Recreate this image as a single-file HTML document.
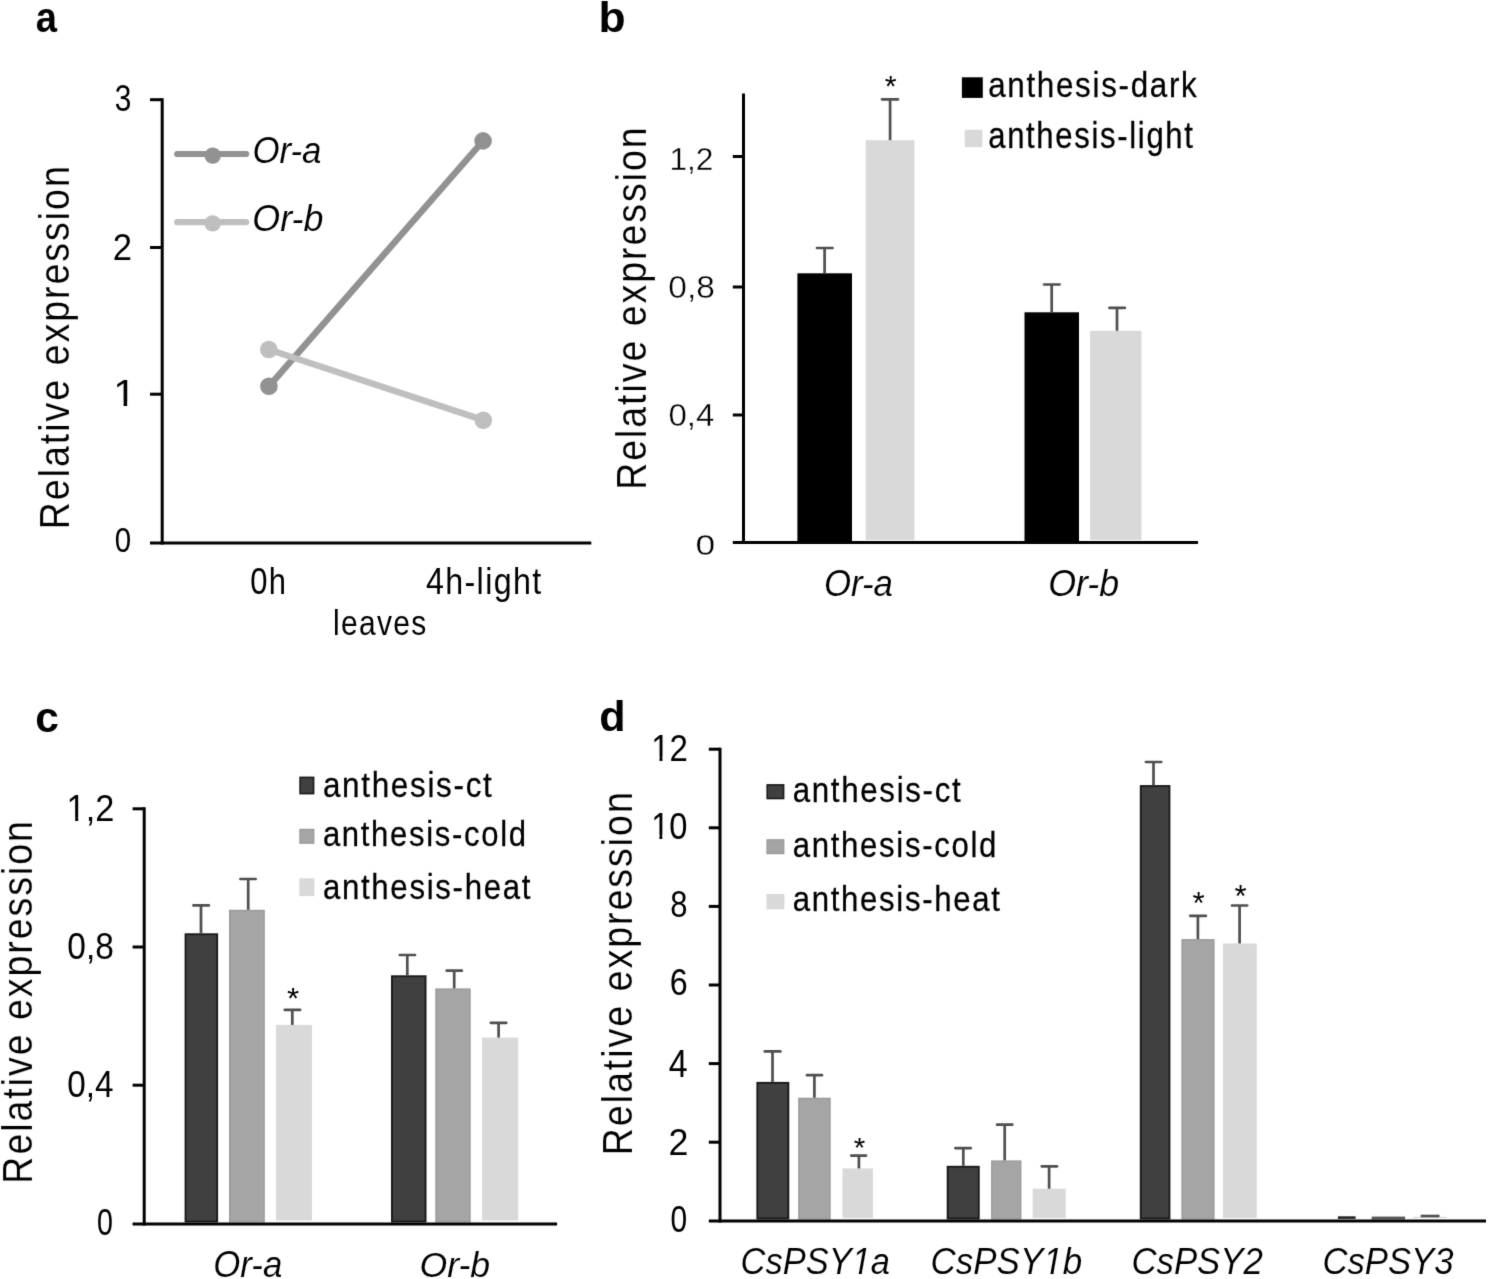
<!DOCTYPE html><html><head><meta charset="utf-8"><title>Figure</title><style>html,body{margin:0;padding:0;background:#fff;overflow:hidden}svg{display:block}</style></head><body><svg width="1488" height="1279" viewBox="0 0 1488 1279" font-family='"Liberation Sans", sans-serif'><defs><filter id="bl" filterUnits="userSpaceOnUse" x="0" y="0" width="1488" height="1279" color-interpolation-filters="sRGB"><feConvolveMatrix order="3" kernelMatrix="0.01134 0.08382 0.01134 0.08382 0.61935 0.08382 0.01134 0.08382 0.01134" divisor="1" edgeMode="duplicate" preserveAlpha="true"/></filter></defs><defs><mask id="m_a1" maskUnits="userSpaceOnUse" maskContentUnits="userSpaceOnUse" x="-50" y="-100" width="1000" height="200"><rect x="-50" y="-100" width="1000" height="200" fill="#fff"/><polygon points="0.000,1.055 9.053,1.055 9.053,-3.779 0.000,-3.779" fill="#000"/><polygon points="12.234,1.055 19.863,1.055 19.863,-3.779 12.234,-3.779" fill="#000"/></mask><mask id="m_c12" maskUnits="userSpaceOnUse" maskContentUnits="userSpaceOnUse" x="-50" y="-100" width="1000" height="200"><rect x="-50" y="-100" width="1000" height="200" fill="#fff"/><polygon points="0.000,1.055 9.053,1.055 9.053,-3.779 0.000,-3.779" fill="#000"/><polygon points="12.234,1.055 19.863,1.055 19.863,-3.779 12.234,-3.779" fill="#000"/></mask><mask id="m_d12" maskUnits="userSpaceOnUse" maskContentUnits="userSpaceOnUse" x="-50" y="-100" width="1000" height="200"><rect x="-50" y="-100" width="1000" height="200" fill="#fff"/><polygon points="0.000,1.055 9.053,1.055 9.053,-3.779 0.000,-3.779" fill="#000"/><polygon points="12.234,1.055 19.863,1.055 19.863,-3.779 12.234,-3.779" fill="#000"/></mask><mask id="m_d10" maskUnits="userSpaceOnUse" maskContentUnits="userSpaceOnUse" x="-50" y="-100" width="1000" height="200"><rect x="-50" y="-100" width="1000" height="200" fill="#fff"/><polygon points="0.000,1.055 9.053,1.055 9.053,-3.779 0.000,-3.779" fill="#000"/><polygon points="12.234,1.055 19.863,1.055 19.863,-3.779 12.234,-3.779" fill="#000"/></mask><mask id="m_dX1" maskUnits="userSpaceOnUse" maskContentUnits="userSpaceOnUse" x="-50" y="-100" width="1000" height="200"><rect x="-50" y="-100" width="1000" height="200" fill="#fff"/><polygon points="111.783,1.025 119.655,1.025 120.568,-3.674 112.638,-3.674" fill="#000"/><polygon points="122.749,1.025 123.662,-3.674 131.437,-3.674 130.582,1.025" fill="#000"/></mask><mask id="m_dX2" maskUnits="userSpaceOnUse" maskContentUnits="userSpaceOnUse" x="-50" y="-100" width="1000" height="200"><rect x="-50" y="-100" width="1000" height="200" fill="#fff"/><polygon points="111.783,1.025 119.655,1.025 120.568,-3.674 112.638,-3.674" fill="#000"/><polygon points="122.749,1.025 123.662,-3.674 131.437,-3.674 130.582,1.025" fill="#000"/></mask></defs><g filter="url(#bl)"><rect width="1488" height="1279" fill="#fff"/><line x1="162.2" y1="98.2" x2="162.2" y2="544.5" stroke="#000" stroke-width="3" stroke-linecap="butt"/><line x1="150" y1="99.7" x2="162.2" y2="99.7" stroke="#000" stroke-width="3" stroke-linecap="butt"/><line x1="150" y1="247.5" x2="162.2" y2="247.5" stroke="#000" stroke-width="3" stroke-linecap="butt"/><line x1="150" y1="394.2" x2="162.2" y2="394.2" stroke="#000" stroke-width="3" stroke-linecap="butt"/><line x1="150" y1="543" x2="591.3" y2="543" stroke="#000" stroke-width="3" stroke-linecap="butt"/><line x1="268.9" y1="386.3" x2="483.1" y2="140.9" stroke="#929292" stroke-width="6.5" stroke-linecap="round"/><line x1="268.8" y1="349.5" x2="483.3" y2="420.2" stroke="#bfbfbf" stroke-width="6.5" stroke-linecap="round"/><circle cx="268.9" cy="386.3" r="8.8" fill="#929292"/><circle cx="483.1" cy="140.9" r="8.8" fill="#929292"/><circle cx="268.8" cy="349.5" r="8.8" fill="#bfbfbf"/><circle cx="483.3" cy="420.2" r="8.8" fill="#bfbfbf"/><line x1="177.2" y1="154" x2="246.2" y2="154" stroke="#929292" stroke-width="6.2" stroke-linecap="round"/><circle cx="212.7" cy="155.6" r="8.2" fill="#929292"/><line x1="177.2" y1="222.2" x2="246.2" y2="222.2" stroke="#bfbfbf" stroke-width="6.2" stroke-linecap="round"/><circle cx="212.7" cy="223.4" r="8.2" fill="#bfbfbf"/><rect x="797.4" y="273.3" width="54.6" height="268.7" fill="#000"/><rect x="865.7" y="140.2" width="48.7" height="399.8" fill="#d9d9d9"/><rect x="1024.5" y="312.3" width="54.5" height="229.7" fill="#000"/><rect x="1090.1" y="330.8" width="51.3" height="209.2" fill="#d9d9d9"/><line x1="824.6" y1="248" x2="824.6" y2="273.3" stroke="#4f4f4f" stroke-width="2.7" stroke-linecap="butt"/><line x1="817" y1="248" x2="832.5" y2="248" stroke="#4f4f4f" stroke-width="2.7" stroke-linecap="round"/><line x1="890.1" y1="99.4" x2="890.1" y2="140.2" stroke="#4f4f4f" stroke-width="2.7" stroke-linecap="butt"/><line x1="882.1" y1="99.4" x2="897.9" y2="99.4" stroke="#4f4f4f" stroke-width="2.7" stroke-linecap="round"/><line x1="1051.7" y1="284.5" x2="1051.7" y2="312.3" stroke="#4f4f4f" stroke-width="2.7" stroke-linecap="butt"/><line x1="1044.1" y1="284.5" x2="1059.5" y2="284.5" stroke="#4f4f4f" stroke-width="2.7" stroke-linecap="round"/><line x1="1117" y1="307.8" x2="1117" y2="330.8" stroke="#4f4f4f" stroke-width="2.7" stroke-linecap="butt"/><line x1="1109.4" y1="307.8" x2="1124.9" y2="307.8" stroke="#4f4f4f" stroke-width="2.7" stroke-linecap="round"/><line x1="743.5" y1="93.5" x2="743.5" y2="544" stroke="#000" stroke-width="3" stroke-linecap="butt"/><line x1="732.8" y1="156.5" x2="743.5" y2="156.5" stroke="#000" stroke-width="3" stroke-linecap="butt"/><line x1="732.8" y1="287" x2="743.5" y2="287" stroke="#000" stroke-width="3" stroke-linecap="butt"/><line x1="732.8" y1="415" x2="743.5" y2="415" stroke="#000" stroke-width="3" stroke-linecap="butt"/><line x1="732.8" y1="542.5" x2="1198" y2="542.5" stroke="#000" stroke-width="3" stroke-linecap="butt"/><rect x="961.9" y="77.3" width="20.9" height="20.6" fill="#000"/><rect x="964.7" y="129.8" width="17.7" height="17.3" fill="#d9d9d9"/><rect x="185.55" y="934.25" width="31.6" height="287.3" fill="#404040" stroke="#1a1a1a" stroke-width="1.9"/><rect x="229.7" y="910.5" width="34.4" height="311.3" fill="#a5a5a5" stroke="#999999" stroke-width="1.4"/><rect x="276" y="1024.9" width="36" height="195.6" fill="#d9d9d9"/><rect x="391.95" y="976.25" width="33.6" height="245.3" fill="#404040" stroke="#1a1a1a" stroke-width="1.9"/><rect x="436" y="989.1" width="34" height="232.7" fill="#a5a5a5" stroke="#999999" stroke-width="1.4"/><rect x="482" y="1037.6" width="36.2" height="182.9" fill="#d9d9d9"/><line x1="201" y1="905.4" x2="201" y2="933.3" stroke="#4f4f4f" stroke-width="2.7" stroke-linecap="butt"/><line x1="193.5" y1="905.4" x2="208.8" y2="905.4" stroke="#4f4f4f" stroke-width="2.7" stroke-linecap="round"/><line x1="248.2" y1="879" x2="248.2" y2="909.8" stroke="#4f4f4f" stroke-width="2.7" stroke-linecap="butt"/><line x1="240.4" y1="879" x2="255.7" y2="879" stroke="#4f4f4f" stroke-width="2.7" stroke-linecap="round"/><line x1="292.3" y1="1009.9" x2="292.3" y2="1024.9" stroke="#4f4f4f" stroke-width="2.7" stroke-linecap="butt"/><line x1="284.8" y1="1009.9" x2="300.1" y2="1009.9" stroke="#4f4f4f" stroke-width="2.7" stroke-linecap="round"/><line x1="407.3" y1="955" x2="407.3" y2="975.3" stroke="#4f4f4f" stroke-width="2.7" stroke-linecap="butt"/><line x1="399.8" y1="955" x2="415" y2="955" stroke="#4f4f4f" stroke-width="2.7" stroke-linecap="round"/><line x1="454.2" y1="970.7" x2="454.2" y2="988.4" stroke="#4f4f4f" stroke-width="2.7" stroke-linecap="butt"/><line x1="446.7" y1="970.7" x2="461.8" y2="970.7" stroke="#4f4f4f" stroke-width="2.7" stroke-linecap="round"/><line x1="498.6" y1="1022.8" x2="498.6" y2="1037.6" stroke="#4f4f4f" stroke-width="2.7" stroke-linecap="butt"/><line x1="490.8" y1="1022.8" x2="506.3" y2="1022.8" stroke="#4f4f4f" stroke-width="2.7" stroke-linecap="round"/><line x1="144.2" y1="807.3" x2="144.2" y2="1225.5" stroke="#000" stroke-width="3" stroke-linecap="butt"/><line x1="132.6" y1="808.8" x2="144.2" y2="808.8" stroke="#000" stroke-width="3" stroke-linecap="butt"/><line x1="132.6" y1="947" x2="144.2" y2="947" stroke="#000" stroke-width="3" stroke-linecap="butt"/><line x1="132.6" y1="1085.2" x2="144.2" y2="1085.2" stroke="#000" stroke-width="3" stroke-linecap="butt"/><line x1="132.6" y1="1224" x2="557.1" y2="1224" stroke="#000" stroke-width="3" stroke-linecap="butt"/><rect x="300.1" y="777.4" width="13.5" height="16.2" fill="#404040" stroke="#1a1a1a" stroke-width="1.6"/><rect x="299.9" y="829.4" width="13.9" height="13.8" fill="#a5a5a5" stroke="#999999" stroke-width="1.2"/><rect x="299.3" y="878.3" width="15.1" height="17.8" fill="#d9d9d9"/><rect x="757.35" y="1082.85" width="31" height="135.7" fill="#404040" stroke="#1a1a1a" stroke-width="1.9"/><rect x="798.9" y="1098.4" width="31.1" height="120.4" fill="#a5a5a5" stroke="#999999" stroke-width="1.4"/><rect x="842.4" y="1168.4" width="30.5" height="49.6" fill="#d9d9d9"/><rect x="947.65" y="1166.75" width="31.1" height="51.8" fill="#404040" stroke="#1a1a1a" stroke-width="1.9"/><rect x="991.8" y="1161.1" width="28.9" height="57.7" fill="#a5a5a5" stroke="#999999" stroke-width="1.4"/><rect x="1032.7" y="1188.7" width="33" height="29.3" fill="#d9d9d9"/><rect x="1140.75" y="786.05" width="28.7" height="432.5" fill="#404040" stroke="#1a1a1a" stroke-width="1.9"/><rect x="1182.1" y="939.8" width="31.8" height="279" fill="#a5a5a5" stroke="#999999" stroke-width="1.4"/><rect x="1222.9" y="943.5" width="33.9" height="274.5" fill="#d9d9d9"/><rect x="1372.4" y="1217.3" width="32" height="1.5" fill="#6a6a6a" stroke="#555555" stroke-width="1.4"/><rect x="1413" y="1216.8" width="33.5" height="1.2" fill="#d9d9d9"/><line x1="772.5" y1="1051.4" x2="772.5" y2="1081.9" stroke="#4f4f4f" stroke-width="2.7" stroke-linecap="butt"/><line x1="764.8" y1="1051.4" x2="780.4" y2="1051.4" stroke="#4f4f4f" stroke-width="2.7" stroke-linecap="round"/><line x1="814.4" y1="1075.2" x2="814.4" y2="1097.7" stroke="#4f4f4f" stroke-width="2.7" stroke-linecap="butt"/><line x1="807" y1="1075.2" x2="821.9" y2="1075.2" stroke="#4f4f4f" stroke-width="2.7" stroke-linecap="round"/><line x1="858.9" y1="1155.6" x2="858.9" y2="1168.4" stroke="#4f4f4f" stroke-width="2.7" stroke-linecap="butt"/><line x1="851.3" y1="1155.6" x2="866" y2="1155.6" stroke="#4f4f4f" stroke-width="2.7" stroke-linecap="round"/><line x1="963.3" y1="1148.2" x2="963.3" y2="1165.8" stroke="#4f4f4f" stroke-width="2.7" stroke-linecap="butt"/><line x1="955.5" y1="1148.2" x2="970.7" y2="1148.2" stroke="#4f4f4f" stroke-width="2.7" stroke-linecap="round"/><line x1="1004.7" y1="1124.7" x2="1004.7" y2="1160.4" stroke="#4f4f4f" stroke-width="2.7" stroke-linecap="butt"/><line x1="997.1" y1="1124.7" x2="1012.3" y2="1124.7" stroke="#4f4f4f" stroke-width="2.7" stroke-linecap="round"/><line x1="1049.1" y1="1166.3" x2="1049.1" y2="1188.7" stroke="#4f4f4f" stroke-width="2.7" stroke-linecap="butt"/><line x1="1041.8" y1="1166.3" x2="1057" y2="1166.3" stroke="#4f4f4f" stroke-width="2.7" stroke-linecap="round"/><line x1="1153.5" y1="762" x2="1153.5" y2="785.1" stroke="#4f4f4f" stroke-width="2.7" stroke-linecap="butt"/><line x1="1145.9" y1="762" x2="1161.2" y2="762" stroke="#4f4f4f" stroke-width="2.7" stroke-linecap="round"/><line x1="1197.9" y1="915.8" x2="1197.9" y2="939.1" stroke="#4f4f4f" stroke-width="2.7" stroke-linecap="butt"/><line x1="1190.2" y1="915.8" x2="1205.9" y2="915.8" stroke="#4f4f4f" stroke-width="2.7" stroke-linecap="round"/><line x1="1239.6" y1="905.5" x2="1239.6" y2="943.5" stroke="#4f4f4f" stroke-width="2.7" stroke-linecap="butt"/><line x1="1232" y1="905.5" x2="1247.2" y2="905.5" stroke="#4f4f4f" stroke-width="2.7" stroke-linecap="round"/><line x1="1337.9" y1="1217.6" x2="1355.6" y2="1217.6" stroke="#222" stroke-width="2.6" stroke-linecap="butt"/><line x1="1420.7" y1="1216" x2="1439.5" y2="1216" stroke="#4f4f4f" stroke-width="2.6" stroke-linecap="butt"/><line x1="720" y1="747.7" x2="720" y2="1222.5" stroke="#000" stroke-width="3" stroke-linecap="butt"/><line x1="708.8" y1="749.2" x2="720" y2="749.2" stroke="#000" stroke-width="3" stroke-linecap="butt"/><line x1="708.8" y1="827.8" x2="720" y2="827.8" stroke="#000" stroke-width="3" stroke-linecap="butt"/><line x1="708.8" y1="906.4" x2="720" y2="906.4" stroke="#000" stroke-width="3" stroke-linecap="butt"/><line x1="708.8" y1="985" x2="720" y2="985" stroke="#000" stroke-width="3" stroke-linecap="butt"/><line x1="708.8" y1="1063.6" x2="720" y2="1063.6" stroke="#000" stroke-width="3" stroke-linecap="butt"/><line x1="708.8" y1="1142.2" x2="720" y2="1142.2" stroke="#000" stroke-width="3" stroke-linecap="butt"/><line x1="708.8" y1="1221" x2="1486" y2="1221" stroke="#000" stroke-width="3" stroke-linecap="butt"/><rect x="767.2" y="784.9" width="16.4" height="13.6" fill="#404040" stroke="#1a1a1a" stroke-width="1.6"/><rect x="767" y="839.8" width="16.8" height="13.8" fill="#a5a5a5" stroke="#999999" stroke-width="1.2"/><rect x="766.4" y="894" width="18" height="15.3" fill="#d9d9d9"/><g fill="#000"><text id="La" transform="matrix(0.8681 0 0 0.9732 35.71 32.31)" font-size="44" font-weight="bold">a</text><text id="Lb" transform="matrix(1.0091 0 0 0.9550 598.57 32.46)" font-size="44" font-weight="bold">b</text><text id="Lc" transform="matrix(0.9674 0 0 0.9814 35.31 731.71)" font-size="44" font-weight="bold">c</text><text id="Ld" transform="matrix(0.9798 0 0 0.9550 599.19 731.36)" font-size="44" font-weight="bold">d</text><text id="a3" transform="matrix(0.8294 0 0 1.0196 114.66 111.05)" font-size="36">3</text><text id="a2" transform="matrix(0.9636 0 0 1.0376 112.71 260.00)" font-size="36">2</text><text id="a1" transform="matrix(1.1429 0 0 1.0505 113.20 406.00)" font-size="36" mask="url(#m_a1)">1</text><text id="a0" transform="matrix(0.8176 0 0 0.9922 114.87 551.65)" font-size="36">0</text><text id="ay" transform="matrix(0 -0.8171 0.9263 0 68.70 529.27)" font-size="46" stroke="#fff" stroke-width="0.172" letter-spacing="2.400">Relative expression</text><text id="aOra" transform="matrix(0.9955 0 0 1.0735 252.41 163.03)" font-size="35" font-style="italic" stroke="#fff" stroke-width="0.097">Or-a</text><text id="aOrb" transform="matrix(1.0234 0 0 1.0314 252.35 230.74)" font-size="35" font-style="italic" stroke="#fff" stroke-width="0.097">Or-b</text><text id="a0h" transform="matrix(0.8838 0 0 1.0353 250.20 593.64)" font-size="35" letter-spacing="1.500">0h</text><text id="a4h" transform="matrix(0.9207 0 0 1.0492 425.91 593.69)" font-size="35" letter-spacing="1.500">4h-light</text><text id="alv" transform="matrix(0.8570 0 0 1.0235 333.07 635.04)" font-size="35" letter-spacing="1.500">leaves</text><text id="b12" transform="matrix(1.0924 0 0 1.0737 669.47 169.54)" font-size="29" stroke="#fff" stroke-width="0.328">1,2</text><text id="b08" transform="matrix(1.1547 0 0 1.0905 668.36 297.58)" font-size="29" stroke="#fff" stroke-width="0.316">0,8</text><text id="b04" transform="matrix(1.1395 0 0 1.0905 668.38 425.58)" font-size="29" stroke="#fff" stroke-width="0.318">0,4</text><text id="b0" transform="matrix(1.2222 0 0 1.0321 695.47 554.50)" font-size="29" stroke="#fff" stroke-width="0.317">0</text><text id="by" transform="matrix(0 -0.8158 0.9263 0 645.50 489.86)" font-size="46" stroke="#fff" stroke-width="0.172" letter-spacing="2.400">Relative expression</text><text id="bL1" transform="matrix(0.8958 0 0 1.0019 988.18 97.40)" font-size="35" stroke="#000" stroke-width="0.262" stroke-linejoin="round" letter-spacing="1.900">anthesis-dark</text><text id="bL2" transform="matrix(0.8867 0 0 1.0308 988.19 147.73)" font-size="35" stroke="#000" stroke-width="0.261" stroke-linejoin="round" letter-spacing="1.900">anthesis-light</text><text id="bst" transform="matrix(1.0140 0 0 1.0000 884.79 95.55)" font-size="30">*</text><text id="bOra" transform="matrix(0.9939 0 0 1.0735 823.91 596.03)" font-size="35" font-style="italic" stroke="#fff" stroke-width="0.097">Or-a</text><text id="bOrb" transform="matrix(1.0219 0 0 1.0314 1048.26 596.04)" font-size="35" font-style="italic" stroke="#fff" stroke-width="0.097">Or-b</text><text id="c12" transform="matrix(0.9542 0 0 1.0420 66.56 820.81)" font-size="36" mask="url(#m_c12)">1,2</text><text id="c08" transform="matrix(0.9298 0 0 1.0420 67.31 959.01)" font-size="36">0,8</text><text id="c04" transform="matrix(0.9242 0 0 1.0218 67.31 1097.10)" font-size="36">0,4</text><text id="c0" transform="matrix(0.7941 0 0 1.0157 96.91 1235.05)" font-size="36">0</text><text id="cy" transform="matrix(0 -0.8158 0.9193 0 32.17 1183.66)" font-size="46" stroke="#fff" stroke-width="0.173" letter-spacing="2.400">Relative expression</text><text id="cL1" transform="matrix(0.8975 0 0 1.0275 322.88 797.04)" font-size="35" stroke="#000" stroke-width="0.260" stroke-linejoin="round" letter-spacing="1.900">anthesis-ct</text><text id="cL2" transform="matrix(0.8877 0 0 1.0019 322.89 846.30)" font-size="35" stroke="#000" stroke-width="0.263" stroke-linejoin="round" letter-spacing="1.900">anthesis-cold</text><text id="cL3" transform="matrix(0.8911 0 0 1.0118 322.89 898.65)" font-size="35" stroke="#000" stroke-width="0.263" stroke-linejoin="round" letter-spacing="1.900">anthesis-heat</text><text id="cst" transform="matrix(1.0419 0 0 0.9524 287.08 1007.96)" font-size="30">*</text><text id="cOra" transform="matrix(0.9939 0 0 1.0490 213.31 1276.64)" font-size="35" font-style="italic" stroke="#fff" stroke-width="0.098">Or-a</text><text id="cOrb" transform="matrix(1.0174 0 0 1.0078 419.47 1276.65)" font-size="35" font-style="italic" stroke="#fff" stroke-width="0.099">Or-b</text><text id="d12" transform="matrix(0.9180 0 0 1.0376 651.19 760.80)" font-size="36" mask="url(#m_d12)">12</text><text id="d10" transform="matrix(0.9057 0 0 1.0235 651.23 838.54)" font-size="36" mask="url(#m_d10)">10</text><text id="d8" transform="matrix(0.8588 0 0 1.0275 670.31 917.24)" font-size="36">8</text><text id="d6" transform="matrix(0.8955 0 0 1.0314 669.63 995.14)" font-size="36">6</text><text id="d4" transform="matrix(0.9425 0 0 1.0707 668.69 1076.97)" font-size="36">4</text><text id="d2" transform="matrix(0.9939 0 0 1.0495 668.46 1154.80)" font-size="36">2</text><text id="d0" transform="matrix(0.8294 0 0 1.0118 670.46 1231.95)" font-size="36">0</text><text id="dy" transform="matrix(0 -0.8171 0.9263 0 632.40 1155.27)" font-size="46" stroke="#fff" stroke-width="0.172" letter-spacing="2.400">Relative expression</text><text id="dL1" transform="matrix(0.8932 0 0 0.9843 792.68 801.65)" font-size="35" stroke="#000" stroke-width="0.266" stroke-linejoin="round" letter-spacing="1.900">anthesis-ct</text><text id="dL2" transform="matrix(0.8895 0 0 0.9903 792.69 856.50)" font-size="35" stroke="#000" stroke-width="0.264" stroke-linejoin="round" letter-spacing="1.900">anthesis-cold</text><text id="dL3" transform="matrix(0.8903 0 0 0.9882 792.69 911.05)" font-size="35" stroke="#000" stroke-width="0.266" stroke-linejoin="round" letter-spacing="1.900">anthesis-heat</text><text id="dst1" transform="matrix(0.9860 0 0 0.9429 853.71 1156.66)" font-size="30">*</text><text id="dst2" transform="matrix(1.0419 0 0 1.0667 1192.58 913.53)" font-size="30">*</text><text id="dst3" transform="matrix(1.0419 0 0 1.0190 1234.38 907.35)" font-size="30">*</text><text id="dX1" transform="matrix(0.9852 0 0 1.0776 740.53 1274.33)" font-size="35" font-style="italic" stroke="#fff" stroke-width="0.097" mask="url(#m_dX1)">CsPSY1a</text><text id="dX2" transform="matrix(0.9987 0 0 1.0353 930.60 1274.34)" font-size="35" font-style="italic" stroke="#fff" stroke-width="0.098" mask="url(#m_dX2)">CsPSY1b</text><text id="dX3" transform="matrix(0.9942 0 0 1.0776 1131.41 1274.33)" font-size="35" font-style="italic" stroke="#fff" stroke-width="0.097">CsPSY2</text><text id="dX4" transform="matrix(0.9919 0 0 1.0667 1322.42 1274.33)" font-size="35" font-style="italic" stroke="#fff" stroke-width="0.097">CsPSY3</text></g></g></svg></body></html>
